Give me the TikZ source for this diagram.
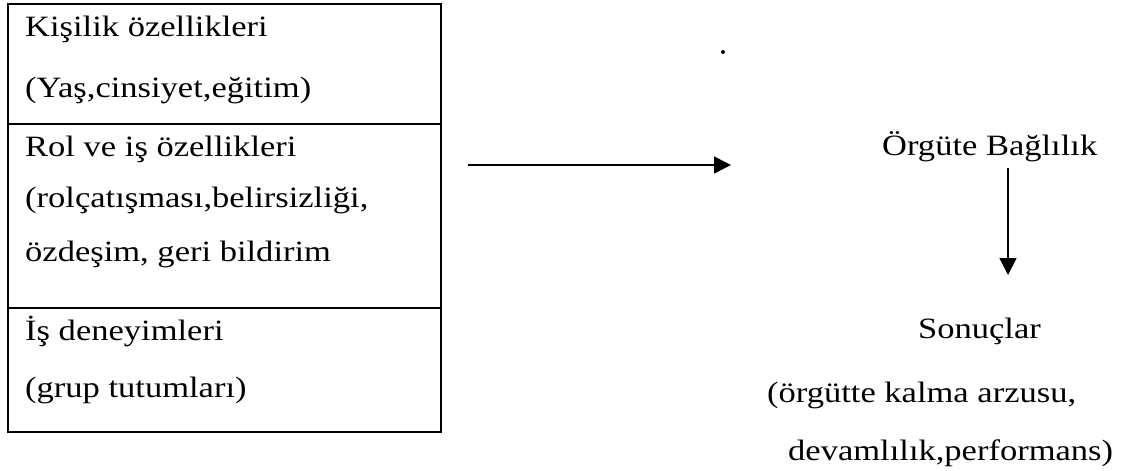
\documentclass[tikz,border=0pt]{standalone}
\usepackage{fontspec}
\setmainfont{Liberation Serif}
\usetikzlibrary{arrows.meta}
\newcommand{\wtxt}[1]{\scalebox{1.17}[1]{#1}}
\tikzset{
  frame/.style={line width=1.4pt},
  lbl/.style={inner sep=0pt, font=\fontsize{29.5}{32}\selectfont},
  arr/.style={line width=1.5pt, -{Triangle[length=17pt,width=17pt]}}
}
\begin{document}
\begin{tikzpicture}[x=1pt,y=-1pt]
\useasboundingbox (0,0) rectangle (1128,471);
% left box with three compartments
\draw[frame] (8,4) rectangle (441,432);
\draw[frame] (8,124) -- (441,124);
\draw[frame] (8,308) -- (441,308);
% compartment texts
\node[lbl, anchor=base west] (k1) at (25,36) {\wtxt{Kişilik özellikleri}};
\node[lbl, anchor=base west] (k2) at (25,97) {\wtxt{(Yaş,cinsiyet,eğitim)}};
\node[lbl, anchor=base west] (r1) at (25,156) {\wtxt{Rol ve iş özellikleri}};
\node[lbl, anchor=base west] (r2) at (25,207) {\wtxt{(rolçatışması,belirsizliği,}};
\node[lbl, anchor=base west] (r3) at (25,261) {\wtxt{özdeşim, geri bildirim}};
\node[lbl, anchor=base west] (i1) at (25,340) {\wtxt{İş deneyimleri}};
\node[lbl, anchor=base west] (i2) at (25,397) {\wtxt{(grup tutumları)}};
% right column
\node[lbl, anchor=base west] (bag) at (882,155) {\wtxt{Örgüte Bağlılık}};
\node[lbl, anchor=base west] (son) at (918,338) {\wtxt{Sonuçlar}};
\node[lbl, anchor=base west] (s2) at (767,402) {\wtxt{(örgütte kalma arzusu,}};
\node[lbl, anchor=base west] (s3) at (788,460) {\wtxt{devamlılık,performans)}};
% connectors
\coordinate (hs) at (468,165);
\coordinate (he) at (731,165);
\draw[arr] (hs) -- (he);
\coordinate (vs) at (1008,168);
\coordinate (ve) at (1008,275);
\draw[arr] (vs) -- (ve);
% stray dot
\fill (723,52) circle (2pt);
\end{tikzpicture}
\end{document}
